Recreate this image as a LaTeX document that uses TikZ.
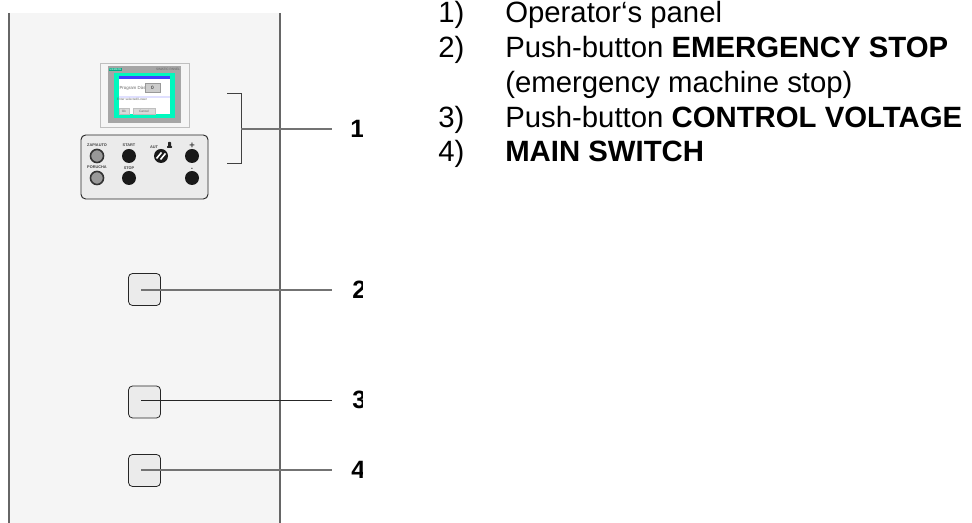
\documentclass[tikz,border=0pt]{standalone}
\usepackage{fontspec}
\setmainfont{Liberation Sans}
\definecolor{mint}{RGB}{0,248,190}
\tikzset{
  px/.style={x=0.75pt,y=-0.75pt},
  leader/.style={draw=black!55,line width=1pt},
  leaderthin/.style={draw=black!85,line width=0.7pt},
  housing/.style={draw=black!60,line width=1pt},
  pushbtn/.style={draw=black!85,fill=black!8,rounded corners=3pt,line width=0.6pt,minimum width=24pt,minimum height=24pt,inner sep=0pt},
  blackbtn/.style={circle,fill=black!90,minimum size=10.5pt,inner sep=0pt},
  graybtn/.style={circle,fill=black!40,draw=black!80,line width=1.2pt,minimum size=9.8pt,inner sep=0pt},
  tiny/.style={font=\bfseries\fontsize{2.9pt}{3pt}\selectfont,text=black!75,inner sep=0pt},
  scr/.style={font=\fontsize{2.4pt}{3pt}\selectfont,text=black!60,inner sep=0pt},
  num/.style={font=\bfseries\fontsize{18.8pt}{20pt}\selectfont,anchor=west,inner sep=0pt},
  lab/.style={font=\fontsize{22pt}{23pt}\selectfont,anchor=base west,inner sep=0pt},
}
\begin{document}
\begin{tikzpicture}[px]
\useasboundingbox (0,0) rectangle (972,523);
\fill[black!4] (9,13) rectangle (280,523);
\draw[housing] (9,13) -- (9,523) (280,13) -- (280,523);
% operator screen
\node[draw=black!25,fill=black!4,line width=0.6pt,minimum width=66.75pt,minimum height=48pt,inner sep=0pt] (bezel) at (144.5,95) {};
\fill[black!35] (108,66) rectangle (181,123);
\fill[mint] (114,73) rectangle (175,118);
\fill[white] (119,76) rectangle (170,114);
\fill[blue!75!white] (119,76) rectangle (170,79);
\fill[blue!12] (119,96) rectangle (170,98.5);
\fill[mint!70!black] (109,68) rectangle (122,71);
\node[scr,text=white,font=\fontsize{2pt}{2pt}\selectfont] (siemens) at (115.5,69.5) {SIEMENS};
\node[scr] (simatic) at (168,69.5) {SIMATIC PANEL};
\node[scr,font=\fontsize{3.3pt}{4pt}\selectfont] (prog) at (132.5,88) {Program Dàs};
\node[draw=black!40,fill=black!20,minimum width=11.25pt,minimum height=6.75pt,inner sep=0pt,font=\fontsize{3.5pt}{4pt}\selectfont] (val) at (152.5,87.5) {0};
\node[scr] (sel) at (132,99.5) {Enter selected/Lower};
\node[draw=black!25,fill=black!15,minimum width=7.5pt,minimum height=4.5pt,inner sep=0pt,font=\fontsize{2.4pt}{3pt}\selectfont,text=black!60] (ok) at (124,111) {Ok};
\node[draw=black!25,fill=black!15,minimum width=16.5pt,minimum height=4.5pt,inner sep=0pt,font=\fontsize{2.4pt}{3pt}\selectfont,text=black!60] (cancel) at (144,111) {Cancel};
% control panel
\node[draw=black!85,fill=black!8,rounded corners=3.5pt,line width=0.7pt,minimum width=95.25pt,minimum height=48pt,inner sep=0pt] (ctrl) at (144.5,167) {};
\node[graybtn] (b1) at (97,156) {};
\node[graybtn] (b2) at (97,178) {};
\node[blackbtn] (b3) at (129,156) {};
\node[blackbtn] (b4) at (129,178) {};
\node[blackbtn] (b5) at (192,156) {};
\node[blackbtn] (b6) at (192,178) {};
\node[circle,fill=black!90,minimum size=10.5pt,inner sep=0pt] (sw) at (161,156) {};
\draw[white,line width=1.2pt] (156.5,158.5) -- (161.5,152.5) (160.5,159.5) -- (165.5,153.5);
\fill[black!85,rounded corners=0.5pt] (167,146) rectangle (172,148) (168,142) rectangle (171,147);
\node[tiny] (t1) at (97,145.5) {ZAP/AUTO};
\node[tiny] (t2) at (97,167.5) {PORUCHA};
\node[tiny] (t3) at (129,145.5) {START};
\node[tiny] (t4) at (129,168) {STOP};
\node[tiny] (t5) at (154,147) {AUT};
\node[tiny,font=\bfseries\fontsize{7pt}{7pt}\selectfont] (t6) at (192,146) {+};
\node[tiny,font=\bfseries\fontsize{5pt}{5pt}\selectfont] (t7) at (192,169) {-};
% bracket
\coordinate (brT) at (227,93);
\coordinate (brB) at (227,163);
\coordinate (brM) at (241,129);
\draw[draw=black!75,line width=0.6pt] (brT) -- (241,93) -- (241,163) -- (brB);
% push buttons
\node[pushbtn] (pb2) at (144.5,289.5) {};
\node[pushbtn] (pb3) at (144.5,402) {};
\node[pushbtn] (pb4) at (144.5,470.5) {};
\coordinate (c2) at (141,290);
\coordinate (c3) at (141,400.5);
\coordinate (c4) at (141,470);
\coordinate (e1) at (332,129);
\coordinate (e2) at (332,290);
\coordinate (e3) at (332,400.5);
\coordinate (e4) at (332,470);
\draw[leader] (brM) -- (e1);
\draw[leader] (c2) -- (e2);
\draw[leaderthin] (c3) -- (e3);
\draw[leader] (c4) -- (e4);
% clipped numbers
\begin{scope}
\clip (340,100) rectangle (362,500);
\node[num] (n1) at (350,129) {1};
\node[num] (n2) at (352,290) {2};
\node[num] (n3) at (352,400) {3};
\node[num] (n4) at (351,470) {4};
\end{scope}
% legend
\node[lab] (l1) at (438,23) {1)};
\node[lab] (l1t) at (505,23) {Operator‘s panel};
\node[lab] (l2) at (438,58) {2)};
\node[lab] (l2t) at (505,58) {Push-button \textbf{EMERGENCY STOP}};
\node[lab] (l2u) at (505,93) {(emergency machine stop)};
\node[lab] (l3) at (438,128) {3)};
\node[lab] (l3t) at (505,128) {Push-button \textbf{CONTROL VOLTAGE}};
\node[lab] (l4) at (438,162) {4)};
\node[lab] (l4t) at (505,162) {\textbf{MAIN SWITCH}};
\end{tikzpicture}
\end{document}
